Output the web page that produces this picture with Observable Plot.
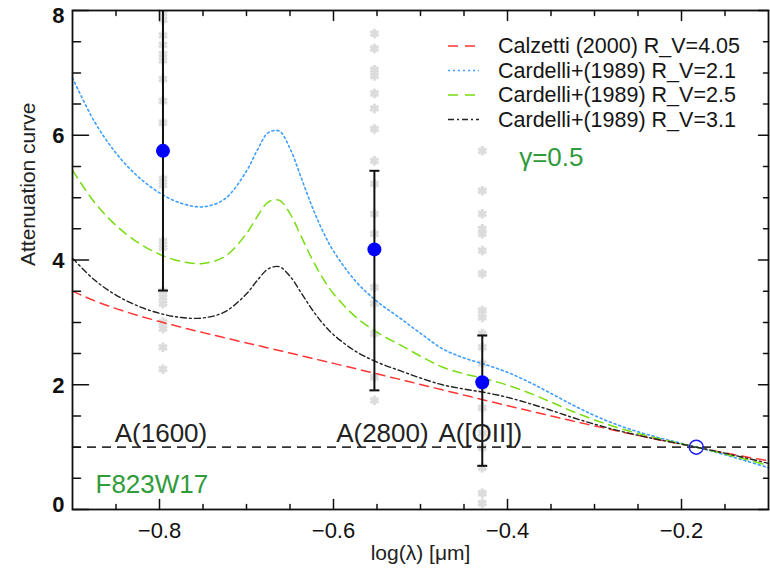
<!DOCTYPE html>
<html><head><meta charset="utf-8">
<script src="https://cdn.jsdelivr.net/npm/d3@7"></script>
<script src="https://cdn.jsdelivr.net/npm/@observablehq/plot@0.6"></script>
<style>
body{margin:0;background:#fff;}
#wrap{position:relative;width:770px;height:569px;font-family:"Liberation Sans",Arial,sans-serif;}
</style></head><body><div id="wrap"></div>
<script>
// ---- data ----
const logLambda = [-0.9,-0.875,-0.85,-0.825,-0.8,-0.775,-0.75,-0.725,-0.7,-0.6875,-0.675,-0.6625,-0.65,-0.6375,-0.625,-0.6125,-0.6,-0.575,-0.55,-0.525,-0.5,-0.475,-0.45,-0.425,-0.4,-0.375,-0.35,-0.325,-0.3,-0.275,-0.25,-0.225,-0.2,-0.175,-0.15,-0.125,-0.1];
const calzetti = [3.50,3.348,3.221,3.111,3.013,2.922,2.836,2.753,2.671,2.631,2.590,2.549,2.508,2.467,2.426,2.384,2.343,2.259,2.175,2.090,2.004,1.919,1.834,1.749,1.665,1.582,1.50,1.419,1.341,1.264,1.188,1.115,1.047,0.977,0.908,0.842,0.78];
const cardelli21 = [6.92,6.225,5.714,5.341,5.077,4.909,4.853,4.978,5.426,5.764,6.041,6.069,5.788,5.333,4.870,4.468,4.144,3.667,3.336,3.084,2.824,2.579,2.430,2.322,2.199,2.041,1.861,1.675,1.507,1.364,1.246,1.148,1.060,0.971,0.877,0.775,0.671];
const cardelli25 = [5.44,4.930,4.554,4.282,4.092,3.976,3.945,4.056,4.423,4.699,4.929,4.960,4.744,4.389,4.026,3.713,3.460,3.093,2.840,2.650,2.459,2.284,2.176,2.093,1.994,1.868,1.723,1.572,1.436,1.318,1.218,1.133,1.054,0.974,0.890,0.800,0.706];
const cardelli31 = [4.03,3.684,3.437,3.263,3.145,3.078,3.071,3.168,3.458,3.674,3.858,3.893,3.740,3.481,3.214,2.986,2.803,2.540,2.363,2.233,2.108,2.000,1.931,1.873,1.798,1.700,1.590,1.474,1.368,1.273,1.190,1.117,1.048,0.977,0.902,0.823,0.740];
const seriesNames = ["Calzetti (2000) R_V=4.05","Cardelli+(1989) R_V=2.1","Cardelli+(1989) R_V=2.5","Cardelli+(1989) R_V=3.1"];

const pointX = [-0.796, -0.553, -0.429];
const pointY = [5.75, 4.17, 2.04];
const errLow = [3.51, 1.91, 0.70];
const errHigh = [8.15, 5.43, 2.79];
const pointLabels = ["A(1600)", "A(2800)", "A([OII])"];

const normX = [-0.183];
const normY = [1.0];
const refLine = [1.0];

const grayCol1 = [7.95,7.85,7.6,7.45,7.3,7.2,6.9,6.55,6.2,5.8,5.3,5.2,4.3,4.2,3.5,3.4,3.3,3.0,2.9,2.6,2.25];
const grayCol2 = [7.63,7.39,7.05,6.95,6.67,6.43,6.1,5.59,5.22,4.74,4.42,3.56,3.3,2.82,2.12,1.75];
const grayCol3 = [5.75,5.11,4.74,4.5,4.42,4.15,3.78,3.19,3.08,2.82,2.6,2.34,1.96,1.63,1.22,0.99,0.67,0.26,0.1];

const xMajor = [-0.8, -0.6, -0.4, -0.2];
const xMinor = [-0.85, -0.75, -0.7, -0.65, -0.55, -0.5, -0.45, -0.35, -0.3, -0.25, -0.15];
const yMajor = [0, 2, 4, 6, 8];
const yMinor = [0.5,1,1.5,2.5,3,3.5,4.5,5,5.5,6.5,7,7.5];

const xTitle = "log(λ) [μm]";
const yTitle = "Attenuation curve";
const filterLabel = "F823W17";
const gammaLabel = "γ=0.5";

// ---- build tables ----
const tbl = arr => logLambda.map((x, i) => ({x, y: arr[i]}));
const points = pointX.map((x, i) => ({x, y: pointY[i], lo: errLow[i], hi: errHigh[i], label: pointLabels[i]}));
const caps = points.flatMap(p => [{x: p.x, y: p.lo}, {x: p.x, y: p.hi}]);
const grays = [
  ...grayCol1.map(y => ({x: pointX[0], y})),
  ...grayCol2.map(y => ({x: pointX[1], y})),
  ...grayCol3.map(y => ({x: pointX[2], y}))
];
const norm = normX.map((x, i) => ({x, y: normY[i]}));

const colors = ["#ff3535", "#3d9eff", "#77dd11", "#222222"];
const dashes = ["9,6", "2,3", "9,6", "6,3,2,3"];

const tickShape = {draw(context, l) { context.moveTo(0, 0); context.lineTo(0, -l); }};
const capSymbol = {draw(context, size) { const r = Math.sqrt(size / Math.PI); context.moveTo(-r, 0); context.lineTo(r, 0); }};

const tickMarks = (vals, key, anchor, rotate, len) =>
  Plot.vector(vals, {[key]: d => d, frameAnchor: anchor, rotate, length: len, anchor: "start", shape: tickShape, stroke: "#111", strokeWidth: 1.5});

const yLabelAxis = (vals, dy) =>
  Plot.axisY({anchor: "left", ticks: vals, tickSize: 0, tickPadding: 8, dy, tickFormat: d3.format("d"), fontSize: 22, fontWeight: "bold", label: null});

const chart = Plot.plot({
  width: 770, height: 569,
  marginLeft: 72, marginRight: 2, marginTop: 10, marginBottom: 60,
  x: {domain: [-0.9, -0.1]},
  y: {domain: [0, 8]},
  style: {fontFamily: "Liberation Sans, Arial, sans-serif", color: "#111", background: "white", overflow: "visible"},
  marks: [
    Plot.dot(grays, {x: "x", y: "y", symbol: "asterisk", r: 4.5, stroke: "#dcdcdc", strokeWidth: 3, clip: true}),
    Plot.ruleY(refLine, {stroke: "#333", strokeWidth: 1.8, strokeDasharray: "9,6"}),
    Plot.line(tbl(calzetti), {x: "x", y: "y", stroke: colors[0], strokeWidth: 1.5, strokeDasharray: dashes[0], curve: "catmull-rom"}),
    Plot.line(tbl(cardelli21), {x: "x", y: "y", stroke: colors[1], strokeWidth: 1.6, strokeDasharray: dashes[1], curve: "catmull-rom"}),
    Plot.line(tbl(cardelli25), {x: "x", y: "y", stroke: colors[2], strokeWidth: 1.5, strokeDasharray: dashes[2], curve: "catmull-rom"}),
    Plot.line(tbl(cardelli31), {x: "x", y: "y", stroke: colors[3], strokeWidth: 1.4, strokeDasharray: dashes[3], curve: "catmull-rom"}),
    Plot.ruleX(points, {x: "x", y1: "lo", y2: "hi", stroke: "#111", strokeWidth: 2, clip: true}),
    Plot.dot(caps, {x: "x", y: "y", symbol: capSymbol, r: 5, stroke: "#111", strokeWidth: 2, clip: true}),
    Plot.dot(points, {x: "x", y: "y", r: 7, fill: "#0000ff"}),
    Plot.dot(norm, {x: "x", y: "y", r: 7, stroke: "#1a1aff", strokeWidth: 1.5, fill: "none"}),
    Plot.text(points.filter((d, i) => i !== 1), {x: "x", y: () => refLine[0], text: "label", dy: -13, dx: -2, fontSize: 26, fill: "#222", lineAnchor: "middle"}),
    Plot.text(points.filter((d, i) => i === 1), {x: "x", y: () => refLine[0], text: "label", dy: -13, dx: 8, fontSize: 26, fill: "#222", lineAnchor: "middle"}),
    Plot.text([filterLabel], {frameAnchor: "bottom-left", dx: 23, dy: -25, textAnchor: "start", lineAnchor: "middle", fontSize: 26, fill: "#2f9b3a"}),
    Plot.text([gammaLabel], {frameAnchor: "top-right", dx: -185, dy: 147, textAnchor: "end", lineAnchor: "middle", fontSize: 26, fill: "#2f9b3a"}),
    Plot.frame({stroke: "#111", strokeWidth: 1.8}),
    tickMarks(xMajor, "x", "bottom", 0, 10),
    tickMarks(xMinor, "x", "bottom", 0, 5),
    tickMarks(xMajor, "x", "top", 180, 10),
    tickMarks(xMinor, "x", "top", 180, 5),
    tickMarks(yMajor, "y", "left", 90, 16),
    tickMarks(yMinor, "y", "left", 90, 8),
    tickMarks(yMajor, "y", "right", -90, 10),
    tickMarks(yMinor, "y", "right", -90, 5),
    Plot.axisX({anchor: "bottom", ticks: xMajor, tickSize: 0, tickPadding: 13, tickFormat: d3.format(".1f"), fontSize: 22, label: null}),
    yLabelAxis(yMajor.slice(1, 4), 1),
    yLabelAxis(yMajor.slice(4), 5),
    yLabelAxis(yMajor.slice(0, 1), -5),
    Plot.text([xTitle], {frameAnchor: "bottom", dy: 44, lineAnchor: "middle", fontSize: 21, fill: "#222"}),
    Plot.text([yTitle], {frameAnchor: "left", dx: -44, dy: 6, rotate: -90, lineAnchor: "middle", fontSize: 21, fill: "#222"})
  ]
});
const wrap = document.getElementById("wrap");
wrap.appendChild(chart);

// legend overlay
const leg = d3.select(wrap).append("svg")
  .attr("width", 770).attr("height", 569)
  .style("position", "absolute").style("left", "0").style("top", "0").style("pointer-events", "none");
seriesNames.forEach((name, i) => {
  const y = 46 + i * 24.5;
  leg.append("line").attr("x1", 448).attr("x2", 479).attr("y1", y).attr("y2", y)
    .attr("stroke", colors[i]).attr("stroke-width", 1.6).attr("stroke-dasharray", i === 1 ? "2,3" : (i === 3 ? "6,3,2,3" : "10,7"));
  leg.append("text").attr("x", 498).attr("y", y).attr("dominant-baseline", "central")
    .attr("font-family", "Liberation Sans, Arial, sans-serif").attr("font-size", 21.5).attr("fill", "#151515").text(name);
});
</script></body></html>
